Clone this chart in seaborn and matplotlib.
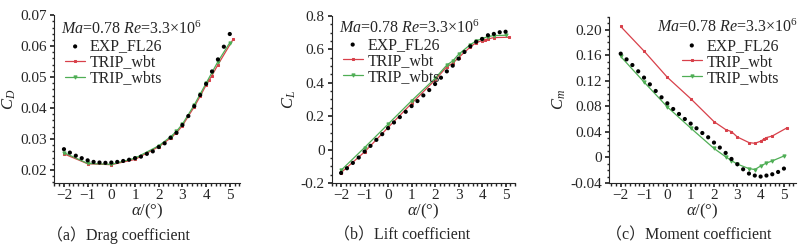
import numpy as np
import pandas as pd
import matplotlib
matplotlib.use('Agg')
import matplotlib.pyplot as plt
import matplotlib.ticker as ticker
import seaborn as sns

# ==================== data ====================
alpha_exp = np.arange(-2.0, 5.01, 0.25)
alpha_wbt = [-2, -1, 0, 1, 2, 2.5, 2.75, 3, 3.5, 3.75, 4, 4.125, 4.25, 4.5, 5.15]
alpha_wbts = [-2, -1, 0, 1, 2, 2.5, 2.75, 3, 3.5, 3.75, 4, 4.25, 4.5, 5.0]

cd_exp = [0.0267, 0.0256, 0.0246, 0.0238, 0.0231, 0.0226, 0.0224, 0.0223, 0.0224,
          0.0226, 0.0229, 0.0233, 0.0238, 0.0243, 0.0252, 0.0260, 0.0274, 0.0286,
          0.0304, 0.0320, 0.0345, 0.0374, 0.0406, 0.0442, 0.0478, 0.0518, 0.0557,
          0.0598, 0.0639]
cd_wbt = [0.0252, 0.0220, 0.0217, 0.0234, 0.0275, 0.0303, 0.0320, 0.0343, 0.0404,
          0.0438, 0.0474, 0.0490, 0.0505, 0.0540, 0.0623]
cd_wbts = [0.0256, 0.0221, 0.0218, 0.0238, 0.0278, 0.0307, 0.0325, 0.0348, 0.0410,
           0.0445, 0.0480, 0.0515, 0.0550, 0.0611]

cl_exp = [-0.140, -0.112, -0.080, -0.048, -0.012, 0.022, 0.058, 0.092, 0.128,
          0.162, 0.194, 0.226, 0.260, 0.290, 0.324, 0.356, 0.392, 0.430, 0.468,
          0.502, 0.544, 0.584, 0.618, 0.645, 0.662, 0.684, 0.692, 0.702, 0.705]
cl_wbt = [-0.138, -0.014, 0.132, 0.276, 0.416, 0.496, 0.516, 0.550, 0.614, 0.640,
          0.652, 0.658, 0.662, 0.670, 0.672]
cl_wbts = [-0.124, 0.012, 0.152, 0.292, 0.426, 0.506, 0.530, 0.570, 0.628, 0.650,
           0.664, 0.676, 0.682, 0.684]

cm_exp = [0.1624, 0.1535, 0.1446, 0.1348, 0.1249, 0.1144, 0.1040, 0.0941, 0.0847,
          0.0758, 0.0680, 0.0601, 0.0529, 0.0456, 0.0382, 0.0315, 0.0232, 0.0154,
          0.0070, -0.0024, -0.0107, -0.0186, -0.0253, -0.0284, -0.0300, -0.0284,
          -0.0264, -0.0228, -0.0175]
cm_wbt = [0.205, 0.1665, 0.1254, 0.092, 0.056, 0.0436, 0.0404, 0.032, 0.0232,
          0.0221, 0.0253, 0.0284, 0.031, 0.0335, 0.0467]
cm_wbts = [0.158, 0.118, 0.079, 0.046, 0.014, 0.001, -0.005, -0.0105, -0.0175,
           -0.019, -0.0135, -0.0088, -0.0055, 0.0022]

labels = ['EXP_FL26', 'TRIP_wbt', 'TRIP_wbts']
captions = ['（a）Drag coefficient', '（b）Lift coefficient', '（c）Moment coefficient']
ylabels = ['$C_D$', '$C_L$', '$C_m$']

RED = '#d8404a'
GREEN = '#4fae55'

# ==================== style ====================
sns.set_theme(style='ticks')
plt.rcParams.update({
    'font.family': ['Liberation Serif', 'Noto Sans CJK SC'],
    'mathtext.fontset': 'custom',
    'mathtext.rm': 'Liberation Serif',
    'mathtext.it': 'Liberation Serif:italic',
    'font.size': 11,
    'xtick.labelsize': 11,
    'ytick.labelsize': 11,
    'axes.linewidth': 0.8,
    'xtick.major.size': 3,
    'ytick.major.size': 3,
    'xtick.minor.size': 1.8,
    'ytick.minor.size': 1.8,
    'xtick.major.pad': 1.5,
    'ytick.major.pad': 2,
})

fig = plt.figure(figsize=(8.11, 2.52), dpi=100)
boxes = [
    [0.0666, 0.274, 0.229, 0.666],
    [0.409, 0.274, 0.226, 0.663],
    [0.751, 0.274, 0.230, 0.659],
]
# xlim, ylim, major step, minor count, legend anchor, note anchor
panels = [
    (cd_exp, cd_wbt, cd_wbts, (-2.42, 5.42), (0.0158, 0.07), 0.01, 5,
     (0.06, 0.86), (0.04, 0.965, 'left')),
    (cl_exp, cl_wbt, cl_wbts, (-2.4, 5.4), (-0.2, 0.8), 0.2, 4,
     (0.06, 0.875), (0.04, 0.975, 'left')),
    (cm_exp, cm_wbt, cm_wbts, (-2.5, 5.5), (-0.04, 0.22), 0.04, 4,
     (0.39, 0.875), (1.01, 0.99, 'right')),
]

for i, (exp, wbt, wbts, xl, yl, ystep, yminor, lpos, note) in enumerate(panels):
    ax = fig.add_axes(boxes[i])
    sns.scatterplot(x=alpha_exp, y=exp, ax=ax, color='black', s=9,
                    edgecolor='none', label=labels[0], zorder=4)
    sns.lineplot(x=alpha_wbt, y=wbt, ax=ax, color=RED, lw=0.9, marker='s',
                 markersize=1.8, markeredgecolor=RED, sort=False, label=labels[1])
    sns.lineplot(x=alpha_wbts, y=wbts, ax=ax, color=GREEN, lw=0.9, marker='v',
                 markersize=2.3, markeredgecolor=GREEN, sort=False, label=labels[2])

    ax.set_xlim(*xl)
    ax.set_ylim(*yl)
    ax.xaxis.set_major_locator(ticker.MultipleLocator(1))
    ax.xaxis.set_minor_locator(ticker.AutoMinorLocator(5))
    ax.yaxis.set_major_locator(ticker.MultipleLocator(ystep))
    ax.yaxis.set_minor_locator(ticker.AutoMinorLocator(yminor))
    if i == 1:
        ax.yaxis.set_major_formatter(ticker.FuncFormatter(
            lambda v, p: '0' if abs(v) < 1e-9 else f'{v:.1f}'))
    elif i == 2:
        ax.yaxis.set_major_formatter(ticker.FuncFormatter(
            lambda v, p: '0' if abs(v) < 1e-9 else f'{v:.2f}'))
    else:
        ax.yaxis.set_major_formatter(ticker.FormatStrFormatter('%.2f'))
    ax.tick_params(which='both', direction='out', top=False, right=False)
    sns.despine(ax=ax)

    ax.set_xlabel(r'$\alpha$/(°)', fontsize=12, labelpad=0)
    ax.set_ylabel(ylabels[i], fontsize=12, labelpad=2)

    ax.text(note[0], note[1], '$Ma$=0.78 $Re$=3.3×10$^6$', transform=ax.transAxes,
            ha=note[2], va='top', fontsize=11.5)
    ax.legend(loc='upper left', bbox_to_anchor=lpos, frameon=False, fontsize=11.5,
              handlelength=1.25, handletextpad=0.3, labelspacing=0.0,
              borderaxespad=0.0, borderpad=0.0)

centers = [118, 402, 689]
for c, cap in zip(centers, captions):
    fig.text(c / 811, 0.067, cap, ha='center', va='center', fontsize=11.5)

fig.savefig('out.png', dpi=100)
